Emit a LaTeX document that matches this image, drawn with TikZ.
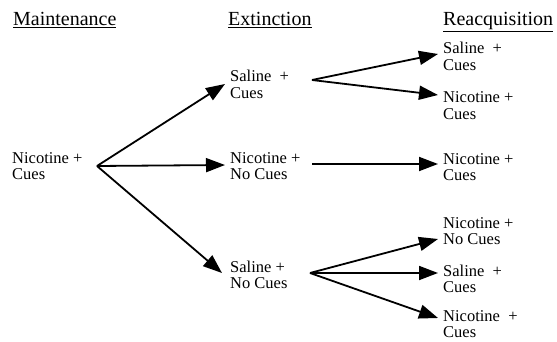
\documentclass[tikz,border=0pt]{standalone}
\usepackage{fontspec}
\setmainfont{Liberation Serif}
\usepackage{tikz}
\usetikzlibrary{arrows.meta, positioning, calc}

\tikzset{
    phase/.style={anchor=base west, inner sep=0pt, font=\fontsize{20}{24}\selectfont},
    cond/.style={anchor=base west, inner sep=0pt, align=left, font=\fontsize{16.5}{16.5}\selectfont},
    arr/.style={-{Triangle[length=19pt, width=14pt]}, line width=1.8pt}
}

\begin{document}
\begin{tikzpicture}[x=1pt, y=-1pt]
    \useasboundingbox (0,0) rectangle (557,342);

    % Phase headings
    \node[phase] (hmaint) at (13,26) {\underline{Maintenance}};
    \node[phase] (hext) at (228,26) {\underline{Extinction}};
    \node[phase] (hreacq) at (443,26) {\underline{Reacquisition}};

    % Maintenance (base = second line)
    \node[cond] (maint) at (12,179.5) {Nicotine +\\Cues};

    % Extinction
    \node[cond] (extsc) at (230,98.5) {Saline\ \ +\\Cues};
    \node[cond] (extnn) at (230,179.5) {Nicotine +\\No Cues};
    \node[cond] (extsn) at (230,288.5) {Saline +\\No Cues};

    % Reacquisition
    \node[cond] (resc) at (443,70.5) {Saline\ \ +\\Cues};
    \node[cond] (renc) at (443,119.5) {Nicotine +\\Cues};
    \node[cond] (rencb) at (443,180.5) {Nicotine +\\Cues};
    \node[cond] (renn) at (443,244.5) {Nicotine +\\No Cues};
    \node[cond] (rescb) at (443,292.5) {Saline\ \ +\\Cues};
    \node[cond] (rencc) at (443,337.5) {Nicotine\ \ +\\Cues};

    % Fork points
    \coordinate (fmaint) at (97,166);
    \coordinate (fextsc) at (312,80);
    \coordinate (fextnn) at (312,164);
    \coordinate (fextsn) at (310,273);

    % Maintenance -> Extinction
    \draw[arr] (fmaint) -- ([xshift=-5pt, yshift=14.5pt]extsc.base west);
    \draw[arr] (fmaint) -- ([xshift=-5pt, yshift=14.5pt]extnn.base west);
    \draw[arr] (fmaint) -- ([xshift=-8pt, yshift=15.5pt]extsn.base west);

    % Extinction -> Reacquisition
    \draw[arr] (fextsc) -- ([xshift=-5pt, yshift=16.5pt]resc.base west);
    \draw[arr] (fextsc) -- ([xshift=-5pt, yshift=24.5pt]renc.base west);
    \draw[arr] (fextnn) -- ([xshift=-5pt, yshift=16.5pt]rencb.base west);
    \draw[arr] (fextsn) -- ([xshift=-5pt, yshift=5.5pt]renn.base west);
    \draw[arr] (fextsn) -- ([xshift=-5pt, yshift=19.5pt]rescb.base west);
    \draw[arr] (fextsn) -- ([xshift=-5pt, yshift=19.5pt]rencc.base west);
\end{tikzpicture}
\end{document}
